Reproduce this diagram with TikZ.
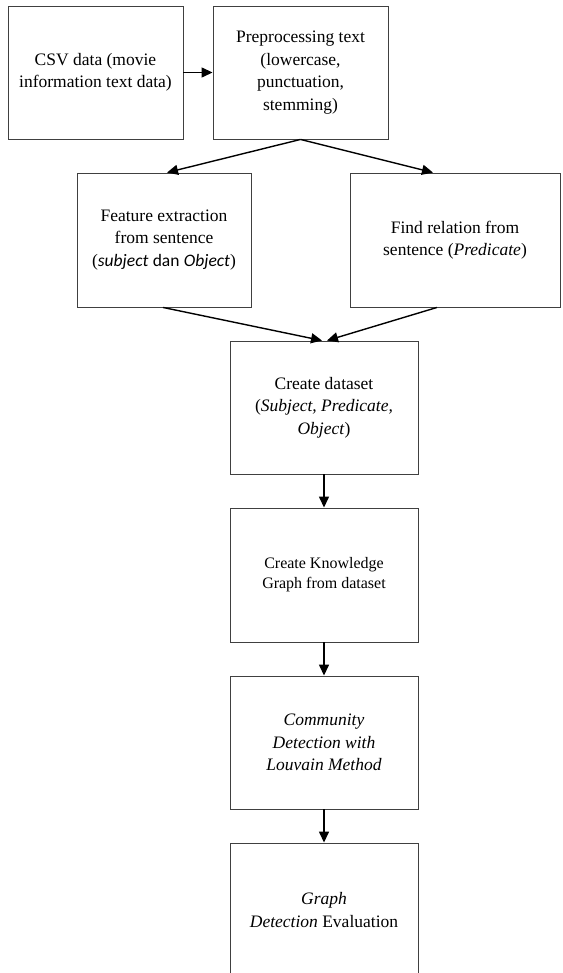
\documentclass[tikz,border=0pt]{standalone}
\usepackage{fontspec}
\setmainfont{Liberation Serif}
\newfontfamily\calibrifont{Carlito}
\usepackage{tikz}
\usetikzlibrary{arrows.meta,calc,positioning}

\begin{document}
\begin{tikzpicture}[
  x=1pt, y=-1pt,
  font=\fontsize{17.5}{22.5}\selectfont,
  box/.style={draw=black!75, line width=0.9pt, minimum width=175pt, minimum height=133pt, align=center, inner sep=2pt},
  arrow/.style={-{Triangle[length=11pt, width=10pt]}, line width=1.4pt},
]
\useasboundingbox (0,0) rectangle (562,973);

%% ---- Top row ----
\node[box] (csv) at (95.5,72.5) {CSV data (movie\\information text data)};
\node[box] (prep) at (300.5,72.5) {Preprocessing text\\(lowercase,\\punctuation,\\stemming)};

\draw[arrow] (csv.east) -- (prep.west);

%% ---- Second row ----
\node[box, minimum width=174pt, minimum height=134pt] (feat) at (164,240) {Feature extraction\\from sentence\\({\calibrifont\itshape subject}~{\calibrifont dan} {\calibrifont\itshape Object})};
\node[box, minimum width=210pt, minimum height=134pt] (rel) at (455,240) {Find relation from\\sentence (\textit{Predicate})};

\draw[arrow] (prep.south) -- ([xshift=3pt]feat.north);
\draw[arrow] (prep.south) -- ([xshift=-22pt]rel.north);

%% ---- Main column ----
\node[box, minimum width=188pt] (data) at (324,407.5) {Create dataset\\(\textit{Subject, Predicate,}\\\textit{Object})};
\node[box, minimum width=188pt, minimum height=134pt, font=\fontsize{16}{20}\selectfont] (kg) at (324,575) {Create Knowledge\\Graph from dataset};
\node[box, minimum width=188pt] (comm) at (324,742.5) {\textit{Community}\\\textit{Detection with}\\\textit{Louvain Method}};
\node[box, minimum width=188pt, minimum height=134pt] (eval) at (324,910) {\textit{Graph}\\\textit{Detection} Evaluation};

\draw[arrow] ([xshift=-1pt]feat.south) -- ([xshift=-2pt]data.north);
\draw[arrow] ([xshift=-18pt]rel.south) -- ([xshift=3pt]data.north);
\draw[arrow] (data.south) -- (kg.north);
\draw[arrow] (kg.south) -- (comm.north);
\draw[arrow] (comm.south) -- (eval.north);

\end{tikzpicture}
\end{document}
